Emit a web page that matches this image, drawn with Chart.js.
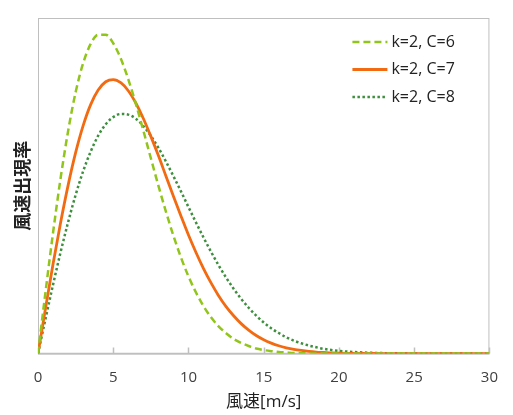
<!DOCTYPE html>
<html>
<head>
<meta charset="utf-8">
<script src="https://cdn.jsdelivr.net/npm/chart.js@4"></script>
<style>
html, body { margin: 0; padding: 0; background: #fff; }
#wrap { width: 513px; height: 415px; }
</style>
</head>
<body>
<div id="wrap"><canvas id="windChart"></canvas></div>
<script>
// wind speed [m/s] sampled along the x axis
const speeds = [
    0, 0.5, 1, 1.5, 2, 2.5, 3, 3.5, 4, 4.5, 5, 5.5, 6, 6.5, 7, 7.5, 8, 8.5, 9, 9.5,
    10, 10.5, 11, 11.5, 12, 12.5, 13, 13.5, 14, 14.5, 15, 15.5, 16, 16.5, 17, 17.5, 18, 18.5, 19, 19.5,
    20, 21, 22, 23, 24, 25, 26, 27, 28, 29, 30
];
// frequency
const freqC6 = [
    0, 0.0276, 0.0540, 0.0783, 0.0994, 0.1168, 0.1298, 0.1384, 0.1425, 0.1425, 0.1387, 0.1319, 0.1226, 0.1117, 0.0997, 0.0873, 0.0751, 0.0635, 0.0527, 0.0430,
    0.0345, 0.0273, 0.0212, 0.0162, 0.0122, 0.0091, 0.0066, 0.0048, 0.0034, 0.0023, 0.0016, 0.0011, 0.0007, 0.0005, 0.0003, 0.0002, 0.0001, 0.0001, 0.0001, 0,
    0, 0, 0, 0, 0, 0, 0, 0, 0, 0, 0
];
const freqC7 = [
    0, 0.0203, 0.0400, 0.0585, 0.0752, 0.0898, 0.1019, 0.1113, 0.1178, 0.1215, 0.1225, 0.1211, 0.1175, 0.1120, 0.1051, 0.0971, 0.0885, 0.0794, 0.0703, 0.0615,
    0.0530, 0.0452, 0.0380, 0.0316, 0.0259, 0.0210, 0.0169, 0.0134, 0.0105, 0.0081, 0.0062, 0.0047, 0.0035, 0.0026, 0.0019, 0.0014, 0.0010, 0.0007, 0.0005, 0.0003,
    0.0002, 0.0001, 0.0001, 0, 0, 0, 0, 0, 0, 0, 0
];
const freqC8 = [
    0, 0.0156, 0.0308, 0.0453, 0.0587, 0.0709, 0.0815, 0.0903, 0.0974, 0.1025, 0.1057, 0.1071, 0.1068, 0.1050, 0.1017, 0.0973, 0.0920, 0.0859, 0.0793, 0.0725,
    0.0655, 0.0586, 0.0519, 0.0455, 0.0395, 0.0340, 0.0290, 0.0245, 0.0205, 0.0170, 0.0139, 0.0113, 0.0092, 0.0073, 0.0058, 0.0046, 0.0036, 0.0028, 0.0021, 0.0016,
    0.0012, 0.0007, 0.0004, 0.0002, 0.0001, 0, 0, 0, 0, 0, 0
];
const seriesLabels = ["k=2, C=6", "k=2, C=7", "k=2, C=8"];
const xTickValues = [0, 5, 10, 15, 20, 25, 30];

const FONT = "'Open Sans', 'Noto Sans CJK JP', sans-serif";
const TEXT = "#404040";

function toPoints(ys) {
    return speeds.map((v, i) => ({ x: v, y: ys[i] }));
}

// frame round the plot area plus the little inward ticks on the bottom axis
const framePlugin = {
    id: "frame",
    beforeDatasetsDraw(chart) {
        const { ctx, chartArea } = chart;
        const xs = chart.scales.x;
        ctx.save();
        ctx.strokeStyle = "#bfbfbf";
        ctx.lineWidth = 1;
        ctx.strokeRect(chartArea.left + 0.5, chartArea.top + 0.5,
            chartArea.right - chartArea.left - 1, chartArea.bottom - chartArea.top);
        ctx.lineWidth = 1.5;
        ctx.beginPath();
        ctx.moveTo(chartArea.left, chartArea.bottom);
        ctx.lineTo(chartArea.right, chartArea.bottom);
        xTickValues.forEach(v => {
            const px = Math.round(xs.getPixelForValue(v)) + 0.5;
            ctx.moveTo(px, chartArea.bottom);
            ctx.lineTo(px, chartArea.bottom - 6);
        });
        ctx.stroke();
        ctx.restore();
    }
};

// legend sitting inside the plot, top right
const legendPlugin = {
    id: "insideLegend",
    afterDatasetsDraw(chart) {
        const { ctx, chartArea } = chart;
        const x0 = chartArea.right - 137;
        ctx.save();
        chart.data.datasets.forEach((ds, i) => {
            const y = chartArea.top + 24 + i * 27.5;
            ctx.strokeStyle = ds.borderColor;
            ctx.lineWidth = ds.borderWidth;
            ctx.setLineDash(ds.borderDash || []);
            ctx.beginPath();
            ctx.moveTo(x0, y);
            ctx.lineTo(x0 + 35, y);
            ctx.stroke();
            ctx.setLineDash([]);
            ctx.fillStyle = "#222";
            ctx.font = "16px " + FONT;
            ctx.textBaseline = "middle";
            ctx.fillText(ds.label, x0 + 39, y);
        });
        ctx.restore();
    }
};

new Chart(document.getElementById("windChart"), {
    type: "line",
    data: {
        datasets: [{
            label: seriesLabels[0],
            data: toPoints(freqC6),
            borderColor: "#92c51b",
            borderWidth: 2.5,
            borderDash: [7, 4]
        }, {
            label: seriesLabels[1],
            data: toPoints(freqC7),
            borderColor: "#f26b12",
            borderWidth: 2.8
        }, {
            label: seriesLabels[2],
            data: toPoints(freqC8),
            borderColor: "#3d8f3d",
            borderWidth: 2.5,
            borderDash: [2.5, 2.5]
        }]
    },
    options: {
        responsive: true,
        maintainAspectRatio: false,
        animation: false,
        devicePixelRatio: 1,
        layout: { padding: { left: 0, right: 22, top: 18, bottom: 0 } },
        elements: {
            point: { radius: 0 },
            line: { tension: 0.4, cubicInterpolationMode: "monotone", fill: false }
        },
        plugins: {
            legend: { display: false },
            tooltip: { enabled: false }
        },
        scales: {
            x: {
                type: "linear",
                min: 0,
                max: 30,
                grid: { display: false, drawTicks: false },
                border: { display: false },
                ticks: {
                    stepSize: 5,
                    color: TEXT,
                    padding: 15,
                    font: { family: FONT, size: 15 }
                },
                title: {
                    display: true,
                    text: "風速[m/s]",
                    color: "#222",
                    padding: { top: -10, bottom: 3 },
                    font: { family: FONT, size: 17 }
                }
            },
            y: {
                min: 0,
                max: 0.15,
                grid: { display: false, drawTicks: false },
                border: { display: false },
                ticks: { display: false },
                title: {
                    display: true,
                    text: "風速出現率",
                    color: "#222",
                    padding: { top: 13, bottom: 3.4 },
                    font: { family: FONT, size: 18, weight: "bold" }
                }
            }
        }
    },
    plugins: [framePlugin, legendPlugin]
});
</script>
</body>
</html>
